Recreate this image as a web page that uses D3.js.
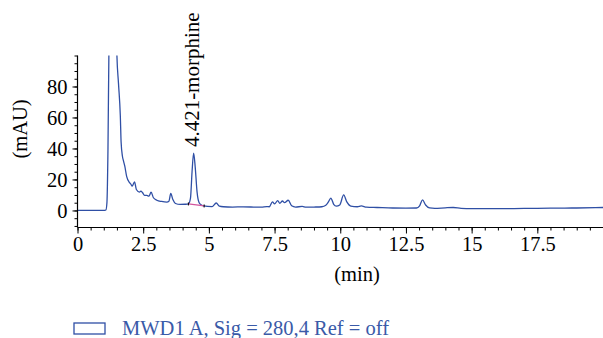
<!DOCTYPE html>
<html><head><meta charset="utf-8">
<script src="https://cdn.jsdelivr.net/npm/d3@7"></script>
<style>body{margin:0;background:#fff}svg{display:block}svg text{font-family:"Liberation Serif","DejaVu Serif",serif !important}</style>
</head><body>
<script>
const times = [0,1.0,1.08,1.12,1.16,1.2,1.3,1.45,1.5,1.56,1.63,1.66,1.71,1.75,1.8,1.87,1.98,2.03,2.08,2.17,2.24,2.36,2.41,2.48,2.55,2.64,2.72,2.8,2.89,3.02,3.2,3.4,3.48,3.55,3.63,3.73,3.91,4.1,4.22,4.3,4.36,4.42,4.48,4.55,4.63,4.72,4.82,4.95,5.12,5.28,5.4,5.55,5.9,6.3,6.7,7.0,7.2,7.3,7.42,7.5,7.62,7.7,7.8,7.88,8.02,8.15,8.3,8.55,8.7,9.0,9.3,9.45,9.55,9.64,9.75,9.85,9.98,10.13,10.25,10.4,10.65,10.8,11.0,11.4,12.0,12.5,12.9,13.02,13.13,13.25,13.4,13.6,14.0,14.3,14.6,15.0,16.0,17.0,18.0,19.0,20.0];
const signal = [0,0,0.3,5,40,110,160,140,100,82,61,44,35,32,28.6,22,18,17,15.7,18.5,13.5,11.8,12.5,11.4,9.7,9.7,9.2,11.8,8.2,6.6,5.8,5.4,6,11,7,4.5,3.9,4,4.2,8,25,37,28,12,5,3.5,2.9,2.6,2.5,4.8,2.8,2.4,2.2,2.3,2.2,2.1,2.5,2.4,5.6,4.3,6.3,4.6,6.1,5,6.6,3.0,2.2,2.6,2.1,2.2,2.4,3.3,5.5,8.0,4.0,2.8,3.5,10,5.5,2.8,2.4,2.9,2.1,1.9,1.6,1.5,1.6,3,6.8,3.5,1.6,1.3,1.7,1.9,1.4,1.2,1.2,1.3,1.5,1.6,1.9];
const integStart = [4.22, 4.2];
const integEnd = [4.82, 2.9];
const xMajorTicks = [0,2.5,5,7.5,10,12.5,15,17.5];
const yMajorTicks = [0,20,40,60,80];
const peakLabel = "4.421-morphine";
const peakTime = 4.421;
const peakHeight = 37;
const xTitle = "(min)";
const yTitle = "(mAU)";
const legendLabel = "MWD1 A, Sig = 280,4 Ref = off";

const W=603,H=338;
const blue="#2f4fa5";
const svg=d3.select("body").append("svg").attr("width",W).attr("height",H);
const x=d3.scaleLinear().domain([0,20]).range([77.5,603]);
const y=d3.scaleLinear().domain([-11,100]).range([227.5,55.5]);

svg.append("clipPath").attr("id","clip").append("rect")
  .attr("x",x(0)).attr("y",y(100)).attr("width",x(20)-x(0)).attr("height",y(-11)-y(100));

const data=times.map((t,i)=>[t,signal[i]]);
const line=d3.line().x(d=>x(d[0])).y(d=>y(d[1])).curve(d3.curveMonotoneX);
svg.append("path").datum(data).attr("clip-path","url(#clip)")
  .attr("d",line).attr("fill","none").attr("stroke",blue).attr("stroke-width",1.3);

// integration baseline
svg.append("line").attr("x1",x(integStart[0])).attr("y1",y(integStart[1]))
  .attr("x2",x(integEnd[0])).attr("y2",y(integEnd[1]))
  .attr("stroke","#d2559e").attr("stroke-width",1.2);
[integStart,integEnd].forEach(p=>{
  svg.append("line").attr("x1",x(p[0])).attr("x2",x(p[0]))
    .attr("y1",y(p[1])-1.5).attr("y2",y(p[1])+1.5).attr("stroke","#000").attr("stroke-width",1);
});

// axes
const xAxisG=svg.append("g").attr("transform",`translate(0,${y(-11)})`);
xAxisG.call(d3.axisBottom(x).tickValues(d3.range(0,20.01,0.5)).tickSize(3).tickFormat(""))
  .call(g=>g.select(".domain").remove());
xAxisG.append("g").call(d3.axisBottom(x).tickValues(xMajorTicks).tickSize(6).tickFormat(d3.format("")))
  .call(g=>g.select(".domain").remove())
  .call(g=>g.selectAll("text").attr("font-size",20.5).attr("dy","0.68em").attr("y",10).attr("fill","#000"));
xAxisG.append("line").attr("x1",x(0)).attr("x2",x(20)).attr("stroke","#000").attr("stroke-width",1.2);

const yAxisG=svg.append("g").attr("transform",`translate(${x(0)},0)`);
yAxisG.call(d3.axisLeft(y).tickValues(d3.range(-10,100.1,5)).tickSize(3).tickFormat(""))
  .call(g=>g.select(".domain").remove());
yAxisG.append("g").call(d3.axisLeft(y).tickValues(yMajorTicks).tickSize(5).tickFormat(d3.format("")))
  .call(g=>g.select(".domain").remove())
  .call(g=>g.selectAll("text").attr("font-size",20.5).attr("x",-10).attr("fill","#000"));
yAxisG.append("line").attr("y1",y(100)).attr("y2",y(-11)).attr("stroke","#000").attr("stroke-width",1.2);

svg.append("text").attr("x",357).attr("y",281).attr("text-anchor","middle").attr("font-size",20.5).text(xTitle);
svg.append("text").attr("transform",`translate(27,129) rotate(-90)`).attr("text-anchor","middle").attr("font-size",20.5).text(yTitle);

svg.append("text").attr("transform",`translate(${x(peakTime)+5},${y(peakHeight)-6}) rotate(-90)`)
  .attr("text-anchor","start").attr("font-size",21).text(peakLabel);

// legend
svg.append("rect").attr("x",74).attr("y",323).attr("width",31).attr("height",11)
  .attr("fill","#fff").attr("stroke",blue).attr("stroke-width",1.3);
svg.append("text").attr("x",122).attr("y",335).attr("font-size",20.5).attr("fill","#3a5aa8").text(legendLabel);
</script>
</body></html>
